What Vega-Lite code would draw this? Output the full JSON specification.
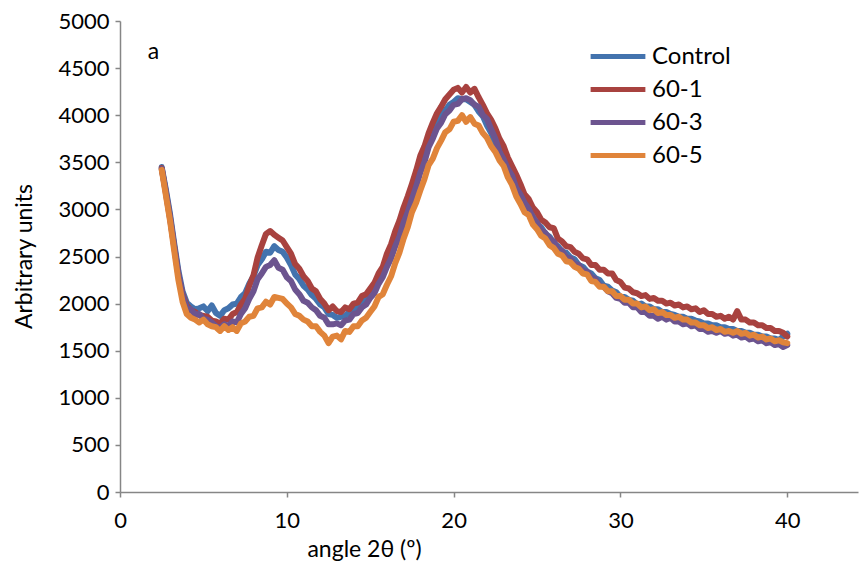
{
  "$schema": "https://vega.github.io/schema/vega-lite/v6.json",
  "width": 738,
  "height": 471,
  "autosize": "none",
  "padding": {"left": 120, "top": 21, "right": 1, "bottom": 73},
  "background": "white",
  "config": {
    "view": {"stroke": null},
    "font": "Lato",
    "axis": {"grid": false, "labelFlush": false, "domainColor": "#868686", "tickColor": "#868686", "domainWidth": 1.5, "tickWidth": 1.5, "tickSize": 5, "labelColor": "#000000", "titleColor": "#000000", "labelFont": "Lato", "titleFont": "Lato", "labelFontSize": 22, "titleFontSize": 23, "titleFontWeight": "normal"}
  },
  "datasets": {
    "xrd": [
      {"x": 2.5, "Control": 3450, "60-1": 3440, "60-3": 3430, "60-5": 3420},
      {"x": 2.75, "Control": 3210, "60-1": 3170, "60-3": 3190, "60-5": 3150},
      {"x": 3.0, "Control": 2950, "60-1": 2900, "60-3": 2920, "60-5": 2880},
      {"x": 3.25, "Control": 2640, "60-1": 2600, "60-3": 2610, "60-5": 2560},
      {"x": 3.5, "Control": 2350, "60-1": 2300, "60-3": 2320, "60-5": 2250},
      {"x": 3.75, "Control": 2130, "60-1": 2100, "60-3": 2090, "60-5": 2020},
      {"x": 4.0, "Control": 2010, "60-1": 1980, "60-3": 1960, "60-5": 1890},
      {"x": 4.25, "Control": 1970, "60-1": 1930, "60-3": 1940, "60-5": 1850},
      {"x": 4.5, "Control": 1940, "60-1": 1910, "60-3": 1880, "60-5": 1830},
      {"x": 4.75, "Control": 1950, "60-1": 1880, "60-3": 1890, "60-5": 1800},
      {"x": 5.0, "Control": 1970, "60-1": 1870, "60-3": 1840, "60-5": 1830},
      {"x": 5.25, "Control": 1920, "60-1": 1860, "60-3": 1830, "60-5": 1780},
      {"x": 5.5, "Control": 1980, "60-1": 1820, "60-3": 1800, "60-5": 1760},
      {"x": 5.75, "Control": 1900, "60-1": 1810, "60-3": 1760, "60-5": 1750},
      {"x": 6.0, "Control": 1870, "60-1": 1790, "60-3": 1740, "60-5": 1710},
      {"x": 6.25, "Control": 1930, "60-1": 1840, "60-3": 1780, "60-5": 1760},
      {"x": 6.5, "Control": 1950, "60-1": 1830, "60-3": 1760, "60-5": 1720},
      {"x": 6.75, "Control": 1990, "60-1": 1890, "60-3": 1810, "60-5": 1750},
      {"x": 7.0, "Control": 2000, "60-1": 1910, "60-3": 1800, "60-5": 1710},
      {"x": 7.25, "Control": 2070, "60-1": 1990, "60-3": 1890, "60-5": 1790},
      {"x": 7.5, "Control": 2110, "60-1": 2050, "60-3": 1950, "60-5": 1810},
      {"x": 7.75, "Control": 2210, "60-1": 2190, "60-3": 2050, "60-5": 1860},
      {"x": 8.0, "Control": 2290, "60-1": 2300, "60-3": 2130, "60-5": 1870},
      {"x": 8.25, "Control": 2410, "60-1": 2490, "60-3": 2260, "60-5": 1950},
      {"x": 8.5, "Control": 2470, "60-1": 2620, "60-3": 2320, "60-5": 1960},
      {"x": 8.75, "Control": 2550, "60-1": 2740, "60-3": 2390, "60-5": 2020},
      {"x": 9.0, "Control": 2540, "60-1": 2770, "60-3": 2410, "60-5": 1990},
      {"x": 9.25, "Control": 2610, "60-1": 2730, "60-3": 2460, "60-5": 2070},
      {"x": 9.5, "Control": 2570, "60-1": 2700, "60-3": 2380, "60-5": 2060},
      {"x": 9.75, "Control": 2550, "60-1": 2670, "60-3": 2360, "60-5": 2050},
      {"x": 10.0, "Control": 2490, "60-1": 2600, "60-3": 2280, "60-5": 2000},
      {"x": 10.25, "Control": 2410, "60-1": 2530, "60-3": 2240, "60-5": 1960},
      {"x": 10.5, "Control": 2310, "60-1": 2420, "60-3": 2150, "60-5": 1890},
      {"x": 10.75, "Control": 2260, "60-1": 2370, "60-3": 2100, "60-5": 1870},
      {"x": 11.0, "Control": 2190, "60-1": 2290, "60-3": 2030, "60-5": 1830},
      {"x": 11.25, "Control": 2150, "60-1": 2240, "60-3": 2010, "60-5": 1810},
      {"x": 11.5, "Control": 2090, "60-1": 2160, "60-3": 1960, "60-5": 1760},
      {"x": 11.75, "Control": 2050, "60-1": 2130, "60-3": 1930, "60-5": 1760},
      {"x": 12.0, "Control": 1990, "60-1": 2050, "60-3": 1870, "60-5": 1700},
      {"x": 12.25, "Control": 1960, "60-1": 2000, "60-3": 1850, "60-5": 1660},
      {"x": 12.5, "Control": 1890, "60-1": 1930, "60-3": 1780, "60-5": 1580},
      {"x": 12.75, "Control": 1880, "60-1": 1970, "60-3": 1780, "60-5": 1650},
      {"x": 13.0, "Control": 1850, "60-1": 1920, "60-3": 1790, "60-5": 1660},
      {"x": 13.25, "Control": 1860, "60-1": 1910, "60-3": 1770, "60-5": 1620},
      {"x": 13.5, "Control": 1870, "60-1": 1960, "60-3": 1820, "60-5": 1710},
      {"x": 13.75, "Control": 1910, "60-1": 1940, "60-3": 1830, "60-5": 1700},
      {"x": 14.0, "Control": 1930, "60-1": 2000, "60-3": 1890, "60-5": 1760},
      {"x": 14.25, "Control": 1970, "60-1": 2010, "60-3": 1900, "60-5": 1760},
      {"x": 14.5, "Control": 1990, "60-1": 2080, "60-3": 1960, "60-5": 1820},
      {"x": 14.75, "Control": 2070, "60-1": 2100, "60-3": 1990, "60-5": 1850},
      {"x": 15.0, "Control": 2090, "60-1": 2160, "60-3": 2060, "60-5": 1910},
      {"x": 15.25, "Control": 2180, "60-1": 2220, "60-3": 2110, "60-5": 1970},
      {"x": 15.5, "Control": 2250, "60-1": 2320, "60-3": 2210, "60-5": 2070},
      {"x": 15.75, "Control": 2350, "60-1": 2390, "60-3": 2280, "60-5": 2100},
      {"x": 16.0, "Control": 2440, "60-1": 2530, "60-3": 2390, "60-5": 2200},
      {"x": 16.25, "Control": 2580, "60-1": 2630, "60-3": 2480, "60-5": 2290},
      {"x": 16.5, "Control": 2690, "60-1": 2770, "60-3": 2610, "60-5": 2430},
      {"x": 16.75, "Control": 2830, "60-1": 2880, "60-3": 2710, "60-5": 2540},
      {"x": 17.0, "Control": 2940, "60-1": 3020, "60-3": 2860, "60-5": 2690},
      {"x": 17.25, "Control": 3090, "60-1": 3140, "60-3": 2970, "60-5": 2810},
      {"x": 17.5, "Control": 3190, "60-1": 3270, "60-3": 3110, "60-5": 2970},
      {"x": 17.75, "Control": 3340, "60-1": 3410, "60-3": 3240, "60-5": 3070},
      {"x": 18.0, "Control": 3440, "60-1": 3570, "60-3": 3390, "60-5": 3200},
      {"x": 18.25, "Control": 3590, "60-1": 3670, "60-3": 3500, "60-5": 3320},
      {"x": 18.5, "Control": 3690, "60-1": 3810, "60-3": 3660, "60-5": 3470},
      {"x": 18.75, "Control": 3810, "60-1": 3920, "60-3": 3750, "60-5": 3540},
      {"x": 19.0, "Control": 3890, "60-1": 4020, "60-3": 3860, "60-5": 3650},
      {"x": 19.25, "Control": 4000, "60-1": 4090, "60-3": 3920, "60-5": 3730},
      {"x": 19.5, "Control": 4050, "60-1": 4170, "60-3": 4010, "60-5": 3820},
      {"x": 19.75, "Control": 4110, "60-1": 4220, "60-3": 4050, "60-5": 3850},
      {"x": 20.0, "Control": 4140, "60-1": 4270, "60-3": 4110, "60-5": 3930},
      {"x": 20.25, "Control": 4180, "60-1": 4290, "60-3": 4120, "60-5": 3940},
      {"x": 20.5, "Control": 4170, "60-1": 4240, "60-3": 4170, "60-5": 4000},
      {"x": 20.75, "Control": 4170, "60-1": 4300, "60-3": 4180, "60-5": 3930},
      {"x": 21.0, "Control": 4140, "60-1": 4240, "60-3": 4160, "60-5": 3980},
      {"x": 21.25, "Control": 4110, "60-1": 4280, "60-3": 4110, "60-5": 3910},
      {"x": 21.5, "Control": 4040, "60-1": 4190, "60-3": 4090, "60-5": 3890},
      {"x": 21.75, "Control": 3990, "60-1": 4110, "60-3": 4000, "60-5": 3810},
      {"x": 22.0, "Control": 3890, "60-1": 4020, "60-3": 3960, "60-5": 3760},
      {"x": 22.25, "Control": 3810, "60-1": 3950, "60-3": 3850, "60-5": 3670},
      {"x": 22.5, "Control": 3690, "60-1": 3860, "60-3": 3750, "60-5": 3610},
      {"x": 22.75, "Control": 3640, "60-1": 3750, "60-3": 3610, "60-5": 3520},
      {"x": 23.0, "Control": 3540, "60-1": 3670, "60-3": 3530, "60-5": 3460},
      {"x": 23.25, "Control": 3460, "60-1": 3550, "60-3": 3430, "60-5": 3340},
      {"x": 23.5, "Control": 3340, "60-1": 3460, "60-3": 3360, "60-5": 3260},
      {"x": 23.75, "Control": 3260, "60-1": 3370, "60-3": 3230, "60-5": 3140},
      {"x": 24.0, "Control": 3140, "60-1": 3270, "60-3": 3160, "60-5": 3060},
      {"x": 24.25, "Control": 3080, "60-1": 3160, "60-3": 3070, "60-5": 2970},
      {"x": 24.5, "Control": 2990, "60-1": 3110, "60-3": 3010, "60-5": 2940},
      {"x": 24.75, "Control": 2930, "60-1": 3020, "60-3": 2910, "60-5": 2840},
      {"x": 25.0, "Control": 2840, "60-1": 2970, "60-3": 2860, "60-5": 2790},
      {"x": 25.25, "Control": 2810, "60-1": 2890, "60-3": 2780, "60-5": 2720},
      {"x": 25.5, "Control": 2740, "60-1": 2860, "60-3": 2750, "60-5": 2690},
      {"x": 25.75, "Control": 2710, "60-1": 2810, "60-3": 2690, "60-5": 2620},
      {"x": 26.0, "Control": 2640, "60-1": 2800, "60-3": 2660, "60-5": 2590},
      {"x": 26.25, "Control": 2610, "60-1": 2690, "60-3": 2580, "60-5": 2530},
      {"x": 26.5, "Control": 2550, "60-1": 2660, "60-3": 2560, "60-5": 2510},
      {"x": 26.75, "Control": 2540, "60-1": 2610, "60-3": 2490, "60-5": 2450},
      {"x": 27.0, "Control": 2490, "60-1": 2600, "60-3": 2480, "60-5": 2440},
      {"x": 27.25, "Control": 2470, "60-1": 2550, "60-3": 2420, "60-5": 2390},
      {"x": 27.5, "Control": 2410, "60-1": 2530, "60-3": 2410, "60-5": 2370},
      {"x": 27.75, "Control": 2390, "60-1": 2480, "60-3": 2350, "60-5": 2320},
      {"x": 28.0, "Control": 2340, "60-1": 2470, "60-3": 2340, "60-5": 2310},
      {"x": 28.25, "Control": 2320, "60-1": 2410, "60-3": 2280, "60-5": 2240},
      {"x": 28.5, "Control": 2270, "60-1": 2410, "60-3": 2260, "60-5": 2230},
      {"x": 28.75, "Control": 2250, "60-1": 2360, "60-3": 2190, "60-5": 2180},
      {"x": 29.0, "Control": 2190, "60-1": 2360, "60-3": 2180, "60-5": 2180},
      {"x": 29.25, "Control": 2180, "60-1": 2320, "60-3": 2130, "60-5": 2130},
      {"x": 29.5, "Control": 2140, "60-1": 2320, "60-3": 2110, "60-5": 2130},
      {"x": 29.75, "Control": 2120, "60-1": 2250, "60-3": 2060, "60-5": 2080},
      {"x": 30.0, "Control": 2070, "60-1": 2230, "60-3": 2050, "60-5": 2080},
      {"x": 30.25, "Control": 2070, "60-1": 2170, "60-3": 2010, "60-5": 2040},
      {"x": 30.5, "Control": 2040, "60-1": 2160, "60-3": 2010, "60-5": 2040},
      {"x": 30.75, "Control": 2030, "60-1": 2120, "60-3": 1960, "60-5": 2000},
      {"x": 31.0, "Control": 1990, "60-1": 2110, "60-3": 1960, "60-5": 2000},
      {"x": 31.25, "Control": 2000, "60-1": 2080, "60-3": 1910, "60-5": 1960},
      {"x": 31.5, "Control": 1970, "60-1": 2090, "60-3": 1910, "60-5": 1970},
      {"x": 31.75, "Control": 1970, "60-1": 2050, "60-3": 1870, "60-5": 1930},
      {"x": 32.0, "Control": 1940, "60-1": 2060, "60-3": 1870, "60-5": 1940},
      {"x": 32.25, "Control": 1940, "60-1": 2030, "60-3": 1840, "60-5": 1900},
      {"x": 32.5, "Control": 1910, "60-1": 2030, "60-3": 1860, "60-5": 1910},
      {"x": 32.75, "Control": 1910, "60-1": 2000, "60-3": 1830, "60-5": 1880},
      {"x": 33.0, "Control": 1890, "60-1": 2010, "60-3": 1850, "60-5": 1880},
      {"x": 33.25, "Control": 1880, "60-1": 1980, "60-3": 1810, "60-5": 1850},
      {"x": 33.5, "Control": 1860, "60-1": 1990, "60-3": 1810, "60-5": 1860},
      {"x": 33.75, "Control": 1860, "60-1": 1960, "60-3": 1780, "60-5": 1830},
      {"x": 34.0, "Control": 1840, "60-1": 1970, "60-3": 1790, "60-5": 1830},
      {"x": 34.25, "Control": 1840, "60-1": 1940, "60-3": 1760, "60-5": 1800},
      {"x": 34.5, "Control": 1820, "60-1": 1950, "60-3": 1770, "60-5": 1800},
      {"x": 34.75, "Control": 1810, "60-1": 1910, "60-3": 1730, "60-5": 1770},
      {"x": 35.0, "Control": 1790, "60-1": 1930, "60-3": 1730, "60-5": 1770},
      {"x": 35.25, "Control": 1790, "60-1": 1890, "60-3": 1700, "60-5": 1740},
      {"x": 35.5, "Control": 1770, "60-1": 1890, "60-3": 1710, "60-5": 1750},
      {"x": 35.75, "Control": 1770, "60-1": 1860, "60-3": 1690, "60-5": 1720},
      {"x": 36.0, "Control": 1750, "60-1": 1870, "60-3": 1710, "60-5": 1730},
      {"x": 36.25, "Control": 1750, "60-1": 1840, "60-3": 1680, "60-5": 1700},
      {"x": 36.5, "Control": 1730, "60-1": 1860, "60-3": 1690, "60-5": 1710},
      {"x": 36.75, "Control": 1730, "60-1": 1830, "60-3": 1660, "60-5": 1690},
      {"x": 37.0, "Control": 1710, "60-1": 1920, "60-3": 1670, "60-5": 1710},
      {"x": 37.25, "Control": 1710, "60-1": 1830, "60-3": 1640, "60-5": 1680},
      {"x": 37.5, "Control": 1690, "60-1": 1830, "60-3": 1650, "60-5": 1690},
      {"x": 37.75, "Control": 1690, "60-1": 1800, "60-3": 1620, "60-5": 1660},
      {"x": 38.0, "Control": 1670, "60-1": 1800, "60-3": 1630, "60-5": 1670},
      {"x": 38.25, "Control": 1670, "60-1": 1770, "60-3": 1600, "60-5": 1640},
      {"x": 38.5, "Control": 1650, "60-1": 1770, "60-3": 1610, "60-5": 1650},
      {"x": 38.75, "Control": 1650, "60-1": 1740, "60-3": 1580, "60-5": 1620},
      {"x": 39.0, "Control": 1630, "60-1": 1740, "60-3": 1590, "60-5": 1630},
      {"x": 39.25, "Control": 1630, "60-1": 1710, "60-3": 1560, "60-5": 1600},
      {"x": 39.5, "Control": 1610, "60-1": 1710, "60-3": 1570, "60-5": 1610},
      {"x": 39.75, "Control": 1650, "60-1": 1690, "60-3": 1540, "60-5": 1590},
      {"x": 40.0, "Control": 1680, "60-1": 1650, "60-3": 1560, "60-5": 1580}
    ],
    "label": [{"x": 2.0, "y": 4670, "text": "a"}]
  },
  "layer": [
    {
      "data": {"name": "xrd"},
      "transform": [{"fold": ["Control", "60-1", "60-3", "60-5"], "as": ["series", "value"]}],
      "mark": {"type": "line", "strokeWidth": 6, "strokeCap": "round", "strokeJoin": "round"},
      "encoding": {
        "x": {"field": "x", "type": "quantitative", "scale": {"domain": [0, 44.24], "nice": false, "zero": false},
              "axis": {"values": [0, 10, 20, 30, 40], "title": "angle 2θ (º)", "labelPadding": 13, "titleX": 244, "titleY": 57, "titleBaseline": "middle", "titleAnchor": null}},
        "y": {"field": "value", "type": "quantitative", "scale": {"domain": [0, 5000], "nice": false},
              "axis": {"values": [0, 500, 1000, 1500, 2000, 2500, 3000, 3500, 4000, 4500, 5000], "format": "d", "title": "Arbitrary units", "labelPadding": 6, "titleX": -96, "titleY": 235, "titleBaseline": "middle", "titleAlign": "center"}},
        "color": {"field": "series", "type": "nominal",
                  "scale": {"domain": ["Control", "60-1", "60-3", "60-5"], "range": ["#4373AE", "#A8423F", "#6C548F", "#E0843A"]},
                  "legend": {"title": null, "orient": "none", "legendX": 468, "legendY": 22, "symbolType": "stroke", "symbolSize": 3000, "symbolStrokeWidth": 5, "labelFontSize": 24, "labelFont": "Lato", "labelColor": "#000000", "clipHeight": 27, "rowPadding": 6, "labelOffset": 4}},
        "order": {"field": "x", "type": "quantitative"}
      }
    },
    {
      "data": {"name": "label"},
      "mark": {"type": "text", "fontSize": 23, "font": "Lato", "color": "#000000", "align": "center", "baseline": "middle"},
      "encoding": {
        "x": {"field": "x", "type": "quantitative"},
        "y": {"field": "y", "type": "quantitative"},
        "text": {"field": "text"}
      }
    }
  ]
}
